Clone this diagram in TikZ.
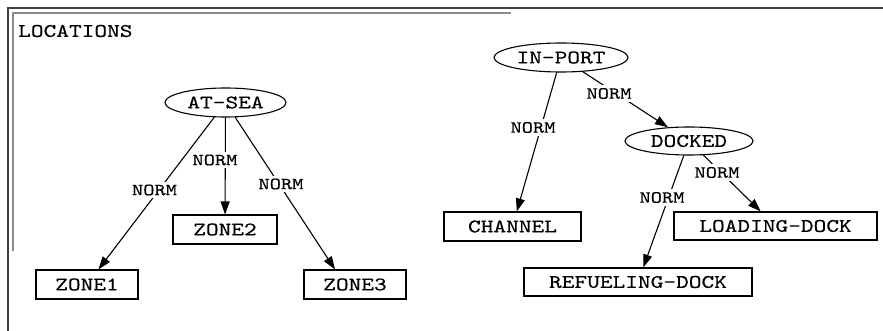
\documentclass[tikz,border=0pt]{standalone}
\usepackage{fontspec}
\newfontfamily\cour[FakeStretch=1.26,FakeBold=0.35]{lmmono10-regular.otf}
\usetikzlibrary{shapes.geometric,arrows.meta}
\begin{document}
\begin{tikzpicture}[x=1pt,y=-1pt,
  state/.style={ellipse,draw,line width=1.1pt,inner sep=0pt,
    font=\cour\fontsize{19.2}{19.2}\selectfont,minimum height=29pt},
  place/.style={rectangle,draw,line width=1.1pt,inner sep=0pt,
    font=\cour\fontsize{19.2}{19.2}\selectfont,minimum height=29pt},
  lbl/.style={fill=white,inner sep=3pt,font=\cour\fontsize{17}{17}\selectfont},
  edge/.style={line width=1.1pt,-{Triangle[length=13pt,width=9pt]}},
  title/.style={font=\cour\fontsize{19.2}{19.2}\selectfont,anchor=west,inner sep=0pt}]
\useasboundingbox (0,0) rectangle (883,331);

% window frame
\draw[line width=2pt,draw=black!75] (8,331) -- (8,8) -- (883,8);
\draw[line width=1.8pt,draw=black!45] (12.8,251) -- (12.8,12.8) -- (511,12.8);

\node[title] (ttl) at (18,31) {LOCATIONS};

% left tree
\node[state,minimum width=121pt] (atsea) at (225.5,102.5) {AT-SEA};
\node[place,minimum width=102pt] (zone1) at (87,284.5) {ZONE1};
\node[place,minimum width=104pt] (zone2) at (225,229.5) {ZONE2};
\node[place,minimum width=102pt] (zone3) at (355,284.5) {ZONE3};
\coordinate (z3in) at ([xshift=-20pt]zone3.north);

% right tree
\node[state,minimum width=134pt] (inport) at (561,57.5) {IN-PORT};
\node[state,minimum width=128pt,minimum height=28pt] (docked) at (689,141) {DOCKED};
\node[place,minimum width=137pt] (channel) at (512.5,226.5) {CHANNEL};
\node[place,minimum width=203pt,minimum height=28pt] (loading) at (775.5,226) {LOADING-DOCK};
\node[place,minimum width=228pt,minimum height=28pt] (refuel) at (638,282) {REFUELING-DOCK};

% connectors
\draw[edge] (atsea) -- (zone1);
\draw[edge] (atsea) -- (zone2);
\draw[edge] (atsea) -- (z3in);
\draw[edge] (inport) -- (channel);
\draw[edge] (inport) -- (docked);
\draw[edge] (docked) -- (refuel);
\draw[edge] (docked) -- (loading);

% connector labels
\node[lbl] (n1) at (154.5,190) {NORM};
\node[lbl] (n2) at (215,160) {NORM};
\node[lbl] (n3) at (281,184) {NORM};
\node[lbl] (n4) at (533,127.5) {NORM};
\node[lbl] (n5) at (609,93.5) {NORM};
\node[lbl] (n6) at (662,197.5) {NORM};
\node[lbl] (n7) at (717,172.5) {NORM};
\end{tikzpicture}
\end{document}
